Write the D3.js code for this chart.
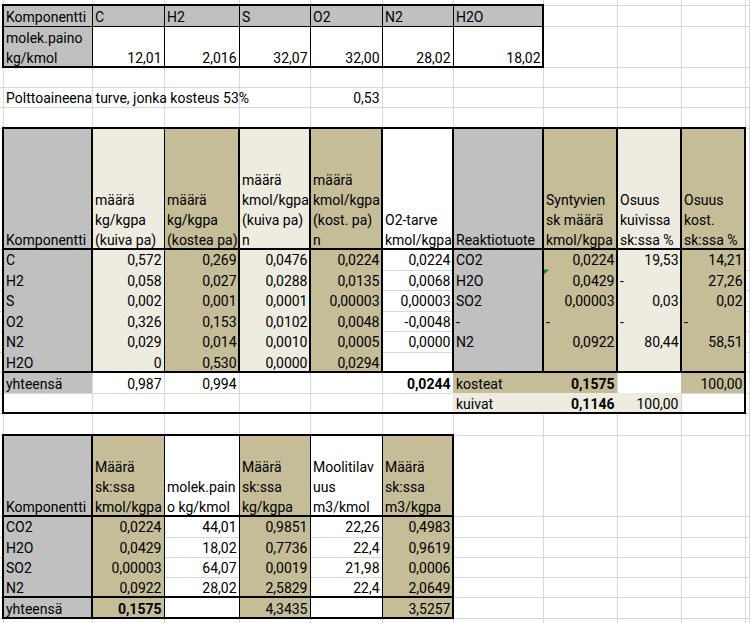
<!DOCTYPE html>
<html>
<head>
<meta charset="utf-8">
<script src="https://cdn.jsdelivr.net/npm/d3@7"></script>
<style>
  html, body { margin: 0; padding: 0; background: #fff; }
  svg { display: block; font-family: Roboto, "Liberation Sans", sans-serif; font-size: 14px; }
</style>
</head>
<body>
<div id="sheet"></div>
<script>
// ---- data (as shown in the sheet, Finnish decimal comma) ----
const molekComponents = ["C", "H2", "S", "O2", "N2", "H2O"];
const molekPaino = ["12,01", "2,016", "32,07", "32,00", "28,02", "18,02"];
const fuelNote = "Polttoaineena turve, jonka kosteus 53%";
const fuelMoisture = "0,53";

const mainHeaders = [
  ["Komponentti"],
  ["määrä", "kg/kgpa", "(kuiva pa)"],
  ["määrä", "kg/kgpa", "(kostea pa)"],
  ["määrä", "kmol/kgpa", "(kuiva pa)", "n"],
  ["määrä", "kmol/kgpa", "(kost. pa)", "n"],
  ["O2-tarve", "kmol/kgpa"],
  ["Reaktiotuote"],
  ["Syntyvien", "sk määrä", "kmol/kgpa"],
  ["Osuus", "kuivissa", "sk:ssa %"],
  ["Osuus", "kost.", "sk:ssa %"]
];
const fuelComponents = ["C", "H2", "S", "O2", "N2", "H2O"];
const massDry = ["0,572", "0,058", "0,002", "0,326", "0,029", "0"];
const massWet = ["0,269", "0,027", "0,001", "0,153", "0,014", "0,530"];
const molDry = ["0,0476", "0,0288", "0,0001", "0,0102", "0,0010", "0,0000"];
const molWet = ["0,0224", "0,0135", "0,00003", "0,0048", "0,0005", "0,0294"];
const o2Need = ["0,0224", "0,0068", "0,00003", "-0,0048", "0,0000", ""];
const products = ["CO2", "H2O", "SO2", "-", "N2", ""];
const productMol = ["0,0224", "0,0429", "0,00003", "-", "0,0922", ""];
const shareDry = ["19,53", "-", "0,03", "-", "80,44", ""];
const shareWet = ["14,21", "27,26", "0,02", "-", "58,51", ""];
const totalLabel = "yhteensä";
const totalMassDry = "0,987";
const totalMassWet = "0,994";
const totalO2Need = "0,0244";
const wetLabel = "kosteat", wetTotal = "0,1575", wetShare = "100,00";
const dryLabel = "kuivat", dryTotal = "0,1146", dryShare = "100,00";

const gasHeaders = [
  ["Komponentti"],
  ["Määrä", "sk:ssa", "kmol/kgpa"],
  ["molek.pain", "o kg/kmol"],
  ["Määrä", "sk:ssa", "kg/kgpa"],
  ["Moolitilav", "uus", "m3/kmol"],
  ["Määrä", "sk:ssa", "m3/kgpa"]
];
const gasComponents = ["CO2", "H2O", "SO2", "N2"];
const gasMol = ["0,0224", "0,0429", "0,00003", "0,0922"];
const gasMolekPaino = ["44,01", "18,02", "64,07", "28,02"];
const gasMass = ["0,9851", "0,7736", "0,0019", "2,5829"];
const gasMolarVolume = ["22,26", "22,4", "21,98", "22,4"];
const gasVolume = ["0,4983", "0,9619", "0,0006", "2,0649"];
const gasTotalMol = "0,1575", gasTotalMass = "4,3435", gasTotalVolume = "3,5257";

// ---- sheet geometry ----
const W = 750, H = 623;
const colEdges = [3, 92, 164, 239, 310, 382, 453, 543, 617, 681, 745, 749];
const rowEdges = [5, 26, 67, 87, 107, 128, 249, 269.5, 290, 310.5, 331, 351.5,
                  372, 393, 413, 435, 516, 536.5, 557, 577, 597, 618];
const x = d3.scaleOrdinal(d3.range(colEdges.length), colEdges);
const y = d3.scaleOrdinal(d3.range(rowEdges.length), rowEdges);

const GREY = "#c0c0c0", TAN = "#c4bd97", LIGHT = "#eeece1", GRID = "#d4d8df";

const svg = d3.select("#sheet").append("svg")
  .attr("width", W).attr("height", H);

// gridlines
svg.append("g").attr("shape-rendering", "crispEdges").selectAll("line.v")
  .data(colEdges).enter().append("line")
  .attr("x1", d => Math.round(d) + 0.5).attr("x2", d => Math.round(d) + 0.5)
  .attr("y1", 0).attr("y2", H).attr("stroke", GRID);
svg.append("g").attr("shape-rendering", "crispEdges").selectAll("line.h")
  .data(rowEdges).enter().append("line")
  .attr("y1", d => Math.round(d) + 0.5).attr("y2", d => Math.round(d) + 0.5)
  .attr("x1", 0).attr("x2", W).attr("stroke", GRID);

// fills: [c0, r0, c1, r1, colour]
const fills = [];
fills.push([0, 0, 7, 1, GREY], [0, 1, 1, 2, GREY]);
const mainColColors = [GREY, LIGHT, TAN, LIGHT, TAN, null, GREY, TAN, LIGHT, TAN];
mainColColors.forEach((c, i) => { if (c) fills.push([i, 5, i + 1, 12, c]); });
fills.push([0, 12, 1, 13, GREY], [6, 12, 8, 13, TAN], [9, 12, 10, 13, TAN]);
fills.push([6, 13, 9, 14, LIGHT]);
const gasColColors = [GREY, TAN, null, TAN, null, TAN];
gasColColors.forEach((c, i) => { if (c) fills.push([i, 15, i + 1, 21, c]); });

svg.append("g").selectAll("rect").data(fills).enter().append("rect")
  .attr("x", d => x(d[0])).attr("y", d => y(d[1]))
  .attr("width", d => x(d[2]) - x(d[0])).attr("height", d => y(d[3]) - y(d[1]))
  .attr("fill", d => d[4]);

// excel error marker
svg.append("path")
  .attr("d", `M${x(7)},${y(7)}h6l-6,6z`)
  .attr("fill", "#1e8a1e");

// borders: [x1, y1, x2, y2, width]
const borders = [];
const vLine = (c, r0, r1, w) => borders.push([x(c), y(r0), x(c), y(r1), w]);
const hLine = (r, c0, c1, w) => borders.push([x(c0), y(r), x(c1), y(r), w]);
const box = (c0, r0, c1, r1, w) => {
  hLine(r0, c0, c1, w); hLine(r1, c0, c1, w); vLine(c0, r0, r1, w); vLine(c1, r0, r1, w);
};
// top table
d3.range(1, 7).forEach(c => vLine(c, 0, 2, 1));
hLine(1, 0, 7, 1);
box(0, 0, 7, 2, 2);
// main table
[1, 3, 4, 5, 6, 7, 8, 9].forEach(c => vLine(c, 5, 12, 2));
vLine(2, 5, 12, 1);
hLine(6, 0, 10, 2);
hLine(12, 0, 10, 2);
box(0, 5, 10, 14, 2);
// product gas table
vLine(1, 15, 21, 2);
d3.range(2, 6).forEach(c => vLine(c, 15, 21, 1));
hLine(16, 0, 6, 2);
hLine(20, 0, 6, 2);
box(0, 15, 6, 21, 2);

svg.append("g").attr("shape-rendering", "crispEdges").selectAll("line")
  .data(borders).enter().append("line")
  .attr("x1", d => d[0] === d[2] ? Math.round(d[0]) + (d[4] === 1 ? 0.5 : 0) : d[0] - 1)
  .attr("x2", d => d[0] === d[2] ? Math.round(d[2]) + (d[4] === 1 ? 0.5 : 0) : d[2] + 1)
  .attr("y1", d => d[1] === d[3] ? Math.round(d[1]) + (d[4] === 1 ? 0.5 : 0) : d[1] - 1)
  .attr("y2", d => d[1] === d[3] ? Math.round(d[3]) + (d[4] === 1 ? 0.5 : 0) : d[3] + 1)
  .attr("stroke", "#000").attr("stroke-width", d => d[4]);

// cell texts
const cells = [];
const put = (c, r, lines, bold) => {
  lines = [].concat(lines);
  if (lines.join("") !== "") cells.push({ c, r, lines, bold: !!bold });
};
put(0, 0, "Komponentti");
molekComponents.forEach((k, i) => put(i + 1, 0, k));
put(0, 1, ["molek.paino", "kg/kmol"]);
molekPaino.forEach((v, i) => put(i + 1, 1, v));
put(0, 3, fuelNote);
put(4, 3, fuelMoisture);

mainHeaders.forEach((h, i) => put(i, 5, h));
const mainCols = [fuelComponents, massDry, massWet, molDry, molWet, o2Need,
                  products, productMol, shareDry, shareWet];
mainCols.forEach((col, c) => col.forEach((v, i) => put(c, 6 + i, v)));
put(0, 12, totalLabel);
put(1, 12, totalMassDry);
put(2, 12, totalMassWet);
put(5, 12, totalO2Need, true);
put(6, 12, wetLabel);
put(7, 12, wetTotal, true);
put(9, 12, wetShare);
put(6, 13, dryLabel);
put(7, 13, dryTotal, true);
put(8, 13, dryShare);

gasHeaders.forEach((h, i) => put(i, 15, h));
const gasCols = [gasComponents, gasMol, gasMolekPaino, gasMass, gasMolarVolume, gasVolume];
gasCols.forEach((col, c) => col.forEach((v, i) => put(c, 16 + i, v)));
put(0, 20, totalLabel);
put(1, 20, gasTotalMol, true);
put(3, 20, gasTotalMass);
put(5, 20, gasTotalVolume);

const isNumber = s => /\d/.test(s) && !/[A-Za-zäö%]/.test(s);

const texts = svg.append("g").selectAll("text").data(cells).enter().append("text")
  .attr("fill", "#000")
  .attr("font-weight", d => d.bold ? "bold" : null)
  .attr("text-anchor", d => isNumber(d.lines[0]) ? "end" : "start")
  .attr("x", d => isNumber(d.lines[0]) ? x(d.c + 1) - 2.5 : x(d.c) + 3);

texts.selectAll("tspan").data(d => d.lines.map((t, i) => ({ t, i, n: d.lines.length, d })))
  .enter().append("tspan")
  .attr("x", function () { return d3.select(this.parentNode).attr("x"); })
  .attr("y", e => y(e.d.r + 1) - 4.5 - (e.n - 1 - e.i) * 20)
  .text(e => e.t);
</script>
</body>
</html>
